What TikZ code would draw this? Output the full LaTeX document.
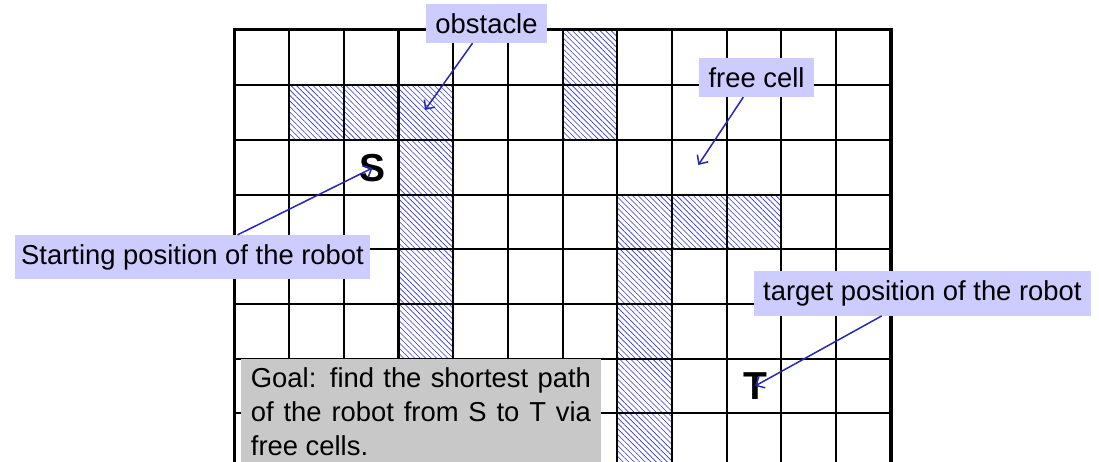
\documentclass[tikz,border=0pt]{standalone}
\usepackage{fontspec}
\setmainfont{Liberation Sans}
\setsansfont{Liberation Sans}
\usetikzlibrary{patterns.meta,arrows.meta}
\definecolor{lav}{RGB}{204,204,255}
\definecolor{goalgray}{RGB}{200,200,200}
\definecolor{arrblue}{RGB}{40,40,175}
\definecolor{hatchblue}{RGB}{50,50,215}
\begin{document}
\begin{tikzpicture}[x=1pt,y=-1pt,
  lbl/.style={fill=lav, inner sep=0pt, font=\fontsize{27.4}{32}\selectfont},
  arr/.style={draw=arrblue, line width=1.5pt, -{Straight Barb[length=7pt,width=13pt]}},
  hatch/.style={pattern={Lines[angle=-45,distance=3.9pt,line width=0.6pt]}, pattern color=hatchblue},
  gridline/.style={line width=2.1pt},
  frameline/.style={line width=3.8pt, line join=miter},
  letter/.style={font=\fontsize{39}{39}\selectfont\bfseries, inner sep=0pt}
]
\useasboundingbox (0,0) rectangle (1099,462);
\clip (0,0) rectangle (1099,462);
% hatched (obstacle) cells
\foreach \c/\r in {1/1,2/1,3/1,3/2,3/3,3/4,3/5,3/6,3/7,6/0,6/1,7/3,8/3,9/3,7/4,7/5,7/6,7/7,7/8}
  \fill[hatch] (234.4+\c*54.7,30.5+\r*54.7) rectangle ++(54.7,54.7);
% grid
\foreach \k in {1,...,11}
  \draw[gridline] (234.4+\k*54.7,30.5) -- (234.4+\k*54.7,470);
\foreach \k in {1,...,8}
  \draw[gridline] (234.4,30.5+\k*54.7) -- (890.8,30.5+\k*54.7);
\draw[frameline] (234.4,470) -- (234.4,29.5) -- (890.8,29.5) -- (890.8,470);
% start and target letters
\node[letter] (S) at (372.5,168) {S};
\node[letter] (T) at (755,386) {T};
% labels
\node[lbl, minimum width=121pt, minimum height=39pt] (obs) at (486.5,23.5) {obstacle};
\node[lbl, minimum width=115pt, minimum height=39.3pt] (free) at (756.5,77.3) {free cell};
\node[lbl, minimum width=355pt, minimum height=44.3pt] (start) at (192.5,257.2) {Starting position of the robot};
\node[lbl, minimum width=336.7pt, minimum height=44.7pt] (target) at (922.4,293.4) {target position of the robot};
% connectors
\coordinate (obstip) at (425,110);
\coordinate (freetip) at (698.3,165);
\draw[arr] (obs) -- (obstip);
\draw[arr] (free) -- (freetip);
\draw[arr] (start) -- (S.center);
\draw[arr] (target) -- (T.center);
% goal box
\node[fill=goalgray, anchor=north west, text width=340pt, inner xsep=10pt, inner ysep=8.7pt,
  align=justify, font=\fontsize{27.4}{34}\selectfont] (goal) at (240.7,359)
  {Goal: find the shortest path\linebreak of the robot from S to T via\linebreak free cells.};
\end{tikzpicture}
\end{document}
